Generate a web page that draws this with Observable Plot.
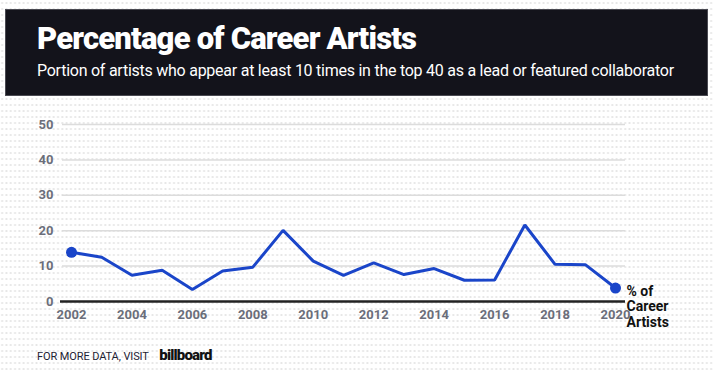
<!DOCTYPE html>
<html>
<head>
<meta charset="utf-8">
<script src="https://cdn.jsdelivr.net/npm/d3@7"></script>
<script src="https://cdn.jsdelivr.net/npm/@observablehq/plot@0.6"></script>
<style>
  html, body { margin: 0; padding: 0; }
  body {
    width: 714px; height: 372px; position: relative; overflow: hidden;
    background-color: #fff;
    background-image: radial-gradient(circle, #e6e6e6 0.9px, transparent 1.1px);
    background-size: 4.3px 6px;
    font-family: Roboto, "Noto Sans", sans-serif;
  }
  #header {
    position: absolute; left: 5px; top: 9px; width: 701px; height: 85px;
    background: #13131b; border: 1px solid #4a4a52;
  }
  #title {
    position: absolute; left: 31px; top: 10px; color: #fff;
    font-size: 31px; font-weight: 900; letter-spacing: -0.8px; white-space: nowrap;
  }
  #subtitle {
    position: absolute; left: 31px; top: 51px; color: #fff;
    font-size: 16px; font-weight: 400; letter-spacing: -0.25px; white-space: nowrap;
  }
  #chart { position: absolute; left: 0; top: 100px; }
  #footer {
    position: absolute; left: 37px; top: 346px; font-size: 11px; color: #1d2233;
    letter-spacing: -0.1px; white-space: nowrap;
  }
  #footer b { font-size: 15px; font-weight: 900; color: #111; letter-spacing: -0.8px; margin-left: 8px; }
</style>
</head>
<body>
<div id="header">
  <div id="title">Percentage of Career Artists</div>
  <div id="subtitle">Portion of artists who appear at least 10 times in the top 40 as a lead or featured collaborator</div>
</div>
<div id="chart"></div>
<div id="footer">FOR MORE DATA, VISIT <b>billboard</b></div>
<script>
const years = [2002, 2003, 2004, 2005, 2006, 2007, 2008, 2009, 2010, 2011, 2012, 2013, 2014, 2015, 2016, 2017, 2018, 2019, 2020];
const pct = [13.9, 12.5, 7.4, 8.8, 3.4, 8.6, 9.7, 20.1, 11.4, 7.4, 10.9, 7.6, 9.3, 6.0, 6.1, 21.6, 10.5, 10.4, 3.8];
const yTicks = [0, 10, 20, 30, 40, 50];
const xTicks = [2002, 2004, 2006, 2008, 2010, 2012, 2014, 2016, 2018, 2020];
const seriesLabel = "% of\nCareer\nArtists";

const data = years.map((y, i) => ({year: y, value: pct[i]}));
const ends = [data[0], data[data.length - 1]];
const last = [data[data.length - 1]];

const chart = Plot.plot({
  width: 714,
  height: 240,
  marginTop: 24,
  marginBottom: 39,
  marginLeft: 71,
  marginRight: 99,
  style: {background: "transparent", overflow: "visible", fontFamily: "Roboto, sans-serif"},
  x: {domain: [2002, 2020]},
  y: {domain: [0, 50]},
  marks: [
    Plot.ruleY(yTicks.filter(d => d > 0), {stroke: "#dcdcdc", strokeWidth: 1.5, insetLeft: -9, insetRight: -10}),
    Plot.ruleY([0], {stroke: "#222", strokeWidth: 2.5, insetLeft: -11, insetRight: -10}),
    Plot.axisY({ticks: yTicks, tickSize: 0, tickPadding: 18, fontSize: 13, fontWeight: 700, fill: "#6b6e7a", label: null}),
    Plot.axisX({ticks: xTicks, tickSize: 0, tickPadding: 8, tickFormat: d => String(d), fontSize: 13, fontWeight: 700, fill: "#6b6e7a", label: null}),
    Plot.line(data, {x: "year", y: "value", stroke: "#1a45c9", strokeWidth: 3, strokeLinejoin: "miter"}),
    Plot.dot(ends, {x: "year", y: "value", r: 5.5, fill: "#1a45c9"}),
    Plot.text(last, {x: "year", y: "value", text: () => seriesLabel, textAnchor: "start", lineAnchor: "top", dx: 11, dy: -3, fontSize: 14, fontWeight: 700, fill: "#111", lineHeight: 1.1})
  ]
});
document.getElementById("chart").append(chart);
</script>
</body>
</html>
